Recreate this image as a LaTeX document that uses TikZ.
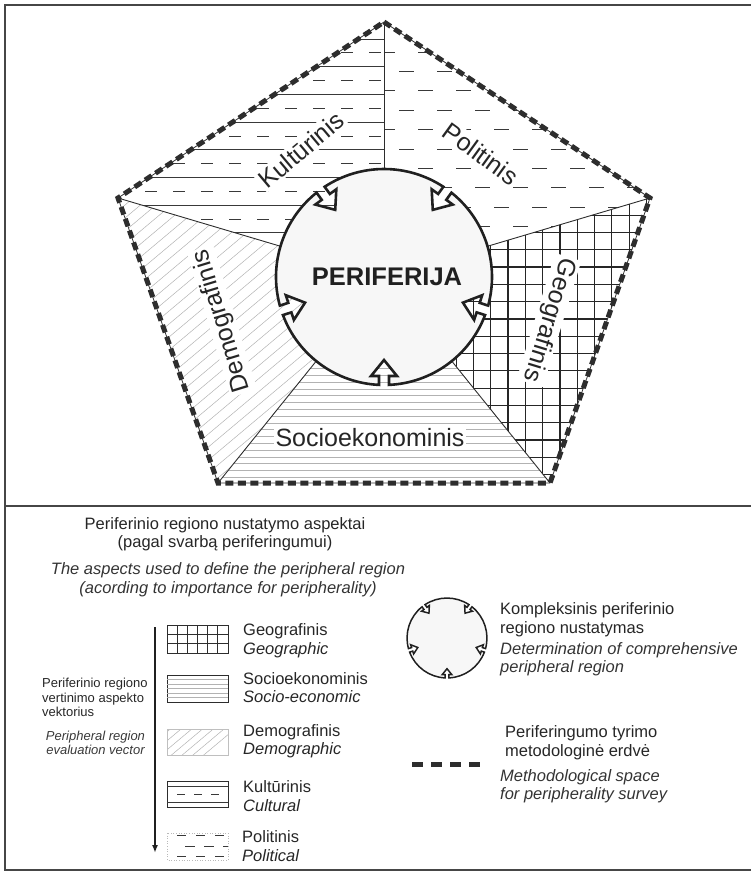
\documentclass[tikz,border=0pt]{standalone}
\usepackage{fontspec}
\setmainfont{Liberation Sans}
\usetikzlibrary{arrows.meta}
\tikzset{
  frame/.style = {line width=2pt, draw=gray!55!black},
  spoke/.style = {line width=0.9pt, draw=gray!35!black},
  hatch/.style = {line width=0.9pt, draw=gray!45!black},
  fine/.style = {line width=0.5pt, draw=gray!60},
  grid line/.style = {line width=1.2pt, draw=gray!30!black},
  space border/.style = {line width=5pt, draw=gray!35!black, dash pattern=on 8pt off 4.5pt},
  rim/.style = {draw=gray!25!black, fill=gray!6, line join=miter},
  aspect/.style = {font=\fontsize{25}{30}\selectfont, text=gray!30!black, fill=white, inner sep=2pt},
  legend/.style = {font=\fontsize{16.5}{18.5}\selectfont, text=gray!30!black, align=left, inner sep=0pt, anchor=west},
  legend en/.style = {legend, font=\fontsize{16.5}{18}\selectfont\itshape, text=gray!40!black},
  swatch/.style = {draw=gray!35!black, line width=0.9pt},
  periphery/.pic = {
    \filldraw[rim] (-15.35:108)
      \foreach \a in {54,126,198,270,342} {
        arc[start angle={\a-69.35}, end angle={\a-2.65}, radius=108]
        -- ([rotate=\a]99,-5) -- ([rotate=\a]99,-13) -- ([rotate=\a]83,0)
        -- ([rotate=\a]99,13) -- ([rotate=\a]99,5) -- ({\a+2.65}:108)
      } -- cycle;
  }
}

\begin{document}
\begin{tikzpicture}[x=1pt, y=1pt]
  \useasboundingbox (0,0) rectangle (751,-873);

  \coordinate (C) at (384,-277);
  \coordinate (T) at (384,-22);
  \coordinate (L) at (118,-198);
  \coordinate (R) at (650,-198);
  \coordinate (BL) at (218,-483);
  \coordinate (BR) at (550,-483);

  % frame
  \draw[frame] (751,-5) -- (5,-5) -- (5,-870) -- (751,-870);
  \draw[frame] (5,-506) -- (751,-506);

  % Kulturinis
  \begin{scope}
    \clip (C) -- (T) -- (L) -- cycle;
    \foreach \k in {0,...,9} {
      \draw[hatch] (100,{-39-27.7*\k}) -- (400,{-39-27.7*\k});
      \draw[hatch, dash pattern=on 12pt off 16pt] (5,{-52.85-27.7*\k}) -- (400,{-52.85-27.7*\k});
    }
  \end{scope}

  % Politinis
  \begin{scope}
    \clip (C) -- (T) -- (R) -- cycle;
    \foreach \k in {-1,...,12} {
      \pgfmathsetmacro\xs{380+19*abs(mod(\k,2))}
      \draw[hatch, dash pattern=on 15pt off 23pt] (\xs,{-52-19.4*\k}) -- (700,{-52-19.4*\k});
    }
  \end{scope}

  % Geografinis
  \begin{scope}
    \clip (C) -- (R) -- (BR) -- cycle;
    \foreach \k in {0,...,17}
      \draw[grid line] ({369.6+17.3*\k},-150) -- ({369.6+17.3*\k},-500);
    \foreach \k in {0,...,19}
      \draw[grid line] (370,{-163.2-17.3*\k}) -- (660,{-163.2-17.3*\k});
  \end{scope}

  % Socioekonominis
  \begin{scope}
    \clip (C) -- (BL) -- (BR) -- cycle;
    \foreach \k in {0,...,30}
      \draw[fine] (200,{-280-6.8*\k}) -- (570,{-280-6.8*\k});
  \end{scope}

  % Demografinis
  \begin{scope}
    \clip (C) -- (L) -- (BL) -- cycle;
    \foreach \k in {0,...,50}
      \draw[fine] (100,{-720+13*\k}) -- ++(400,336);
  \end{scope}

  \foreach \v in {T,R,BR,BL,L}
    \draw[spoke] (C) -- (\v);

  \draw[line width=0.8pt, draw=gray!40!black] (T) -- (R) -- (BR) -- (BL) -- (L) -- cycle;
  \draw[space border] (T) -- (R) -- (BR) -- (BL) -- (L) -- cycle;

  \pic[line width=2.6pt] (core) at (C) {periphery};
  \node[font=\fontsize{25.5}{30}\selectfont\bfseries, text=gray!25!black] (periferija) at (387,-277) {PERIFERIJA};

  \node[aspect, rotate=40] (kult) at (301,-150) {Kultūrinis};
  \node[aspect, rotate=-36] (polit) at (481,-154) {Politinis};
  \node[aspect, rotate=-107] (geo) at (549,-320) {Geografinis};
  \node[aspect, rotate=107] (demo) at (222,-321) {Demografinis};
  \node[aspect] (socio) at (370,-438) {Socioekonominis};

  % legend
  \node[font=\fontsize{16.5}{18}\selectfont, text=gray!30!black, align=center] (aspects lt) at (225,-534)
    {Periferinio regiono nustatymo aspektai\\(pagal svarbą periferingumui)};
  \node[font=\fontsize{16.5}{19}\selectfont\itshape, text=gray!40!black, align=center] (aspects en) at (228,-579.5)
    {The aspects used to define the peripheral region\\(acording to importance for peripherality)};

  \coordinate (vtop) at (155,-627);
  \coordinate (vbot) at (155,-853);
  \draw[line width=1.8pt, draw=gray!25!black, -{Latex[length=8pt,width=6pt]}] (vtop) -- (vbot);
  \node[font=\fontsize{13}{14.5}\selectfont, text=gray!30!black, align=left, anchor=west, inner sep=0pt] (vector lt) at (42,-697.5)
    {Periferinio regiono\\vertinimo aspekto\\vektorius};
  \node[font=\fontsize{13}{14}\selectfont\itshape, text=gray!45!black, align=center, inner sep=0pt] (vector en) at (95.5,-743)
    {Peripheral region\\evaluation vector};

  % swatches
  \draw[swatch, shift={(167,-653)}] (0,0) grid[xstep=61/6, ystep=28/3] (61,28);
  \draw[swatch] (167,-625) rectangle (228,-653);
  \draw[swatch] (167,-675) rectangle (228,-702);
  \foreach \k in {1,...,5}
    \draw[fine] (167,{-675-4.5*\k}) -- (228,{-675-4.5*\k});
  \begin{scope}
    \clip (167,-729) rectangle (228,-755);
    \foreach \k in {0,...,12}
      \draw[fine] (150,{-800+9*\k}) -- ++(80,67);
  \end{scope}
  \draw[swatch, draw=gray!50] (167,-729) rectangle (228,-755);
  \draw[swatch] (167,-781) rectangle (228,-807);
  \draw[hatch] (167,-786) -- (228,-786);
  \draw[hatch, dash pattern=on 8pt off 9pt] (177,-794) -- (228,-794);
  \draw[hatch] (167,-802) -- (228,-802);
  \draw[line width=0.6pt, draw=gray!55, dotted] (167,-833) rectangle (228,-860);
  \draw[hatch, dash pattern=on 9pt off 10pt] (177,-835) -- (228,-835);
  \draw[hatch, dash pattern=on 10pt off 9pt] (185,-846) -- (228,-846);
  \draw[hatch, dash pattern=on 9pt off 10pt] (177,-856) -- (228,-856);

  \node[legend] (geo lt) at (243,-640.5) {Geografinis\\\textit{Geographic}};
  \node[legend] (socio lt) at (243,-687.5) {Socioekonominis\\\textit{Socio-economic}};
  \node[legend] (demo lt) at (243,-741) {Demografinis\\\textit{Demographic}};
  \node[legend] (kult lt) at (243,-796) {Kultūrinis\\\textit{Cultural}};
  \node[legend] (polit lt) at (242,-846) {Politinis\\\textit{Political}};

  \pic[line width=1.5pt, scale=0.37] (small) at (447,-638) {periphery};
  \node[legend] (komp lt) at (500,-619.5) {Kompleksinis periferinio\\regiono nustatymas};
  \node[legend en] (komp en) at (500,-659.5) {Determination of comprehensive\\peripheral region};

  \coordinate (d1) at (412,-764);
  \coordinate (d2) at (482,-764);
  \draw[line width=5pt, draw=gray!35!black, dash pattern=on 11pt off 8pt] (d1) -- (d2);
  \node[legend] (space lt) at (505,-742.5) {Periferingumo tyrimo\\metodologinė erdvė};
  \node[legend en] (space en) at (500,-786) {Methodological space\\for peripherality survey};
\end{tikzpicture}
\end{document}
